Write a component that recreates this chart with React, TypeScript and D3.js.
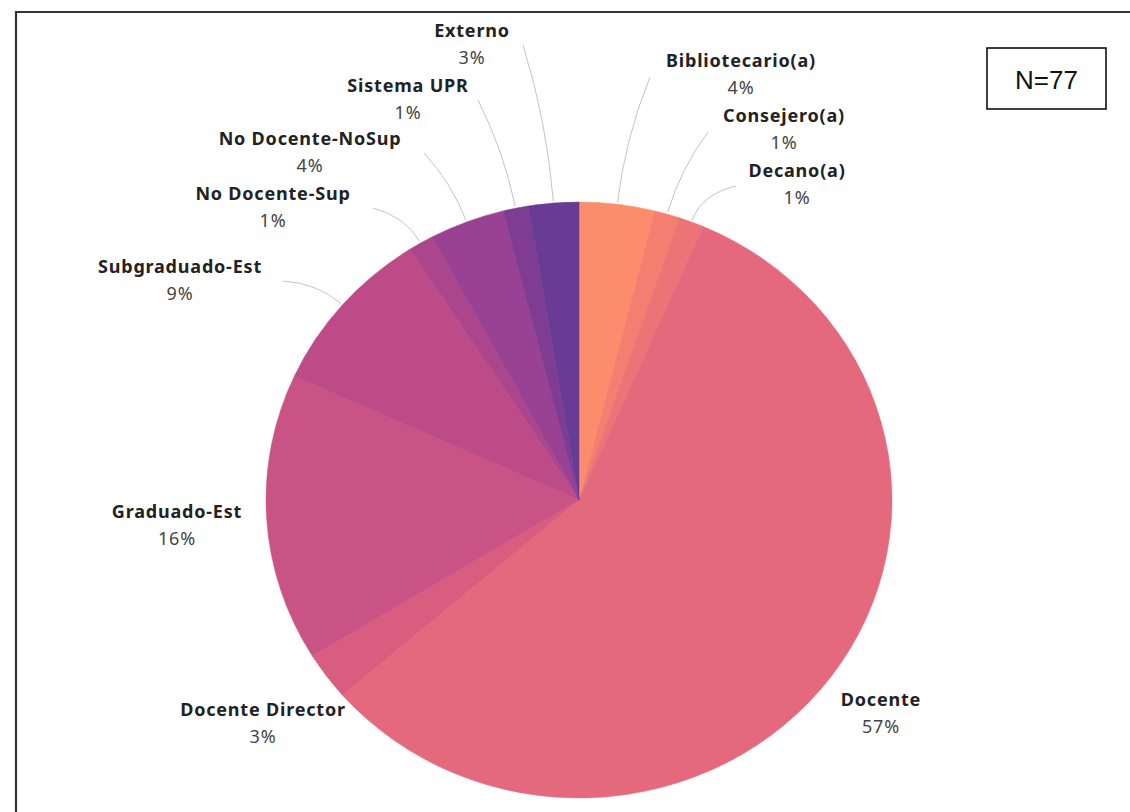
import React from "react";
import * as d3 from "d3";

const categories = [
  "Bibliotecario(a)",
  "Consejero(a)",
  "Decano(a)",
  "Docente",
  "Docente Director",
  "Graduado-Est",
  "Subgraduado-Est",
  "No Docente-Sup",
  "No Docente-NoSup",
  "Sistema UPR",
  "Externo",
];
const counts = [3, 1, 1, 44, 2, 12, 7, 1, 3, 1, 2];
const percentLabels = ["4%", "1%", "1%", "57%", "3%", "16%", "9%", "1%", "4%", "1%", "3%"];
const colors = [
  "#fc8d6c",
  "#f47f70",
  "#ec7476",
  "#e4697c",
  "#d95d7f",
  "#c95385",
  "#bc4b88",
  "#ac468c",
  "#994192",
  "#7e3d92",
  "#683b94",
];
const totalLabel = "N=77";

// label layout (pixel positions of text, and where leader lines end)
const labelLayout: Record<string, { x: number; y: number; lx?: number; ly?: number }> = {
  "Bibliotecario(a)": { x: 741, y: 67, lx: 650, ly: 77 },
  "Consejero(a)": { x: 784, y: 122, lx: 708, ly: 132 },
  "Decano(a)": { x: 797, y: 177, lx: 736, ly: 186 },
  Docente: { x: 881, y: 706 },
  "Docente Director": { x: 263, y: 716 },
  "Graduado-Est": { x: 177, y: 518 },
  "Subgraduado-Est": { x: 180, y: 273, lx: 283, ly: 281 },
  "No Docente-Sup": { x: 273, y: 200, lx: 373, ly: 208 },
  "No Docente-NoSup": { x: 310, y: 145, lx: 424, ly: 153 },
  "Sistema UPR": { x: 408, y: 92, lx: 478, ly: 100 },
  Externo: { x: 472, y: 37, lx: 523, ly: 45 },
};

const W = 1130;
const H = 812;
const CX = 579;
const CY = 500;
const R = 313;
const SY = 0.952;

export default function App() {
  const data = categories.map((c, i) => ({ name: c, value: counts[i], pct: percentLabels[i], color: colors[i] }));
  const pie = d3.pie<any>().value((d) => d.value).sort(null);
  const arcs = pie(data);
  const arc = d3.arc<any>().innerRadius(0).outerRadius(R);

  const font = "'Noto Sans', 'Open Sans', sans-serif";

  return (
    <svg width={W} height={H} style={{ position: "absolute", left: 0, top: 0, background: "#fff" }}>
      <path d={`M16,${H} V12 H${W}`} fill="none" stroke="#333" strokeWidth={2.2} />
      <g transform={`translate(${CX},${CY}) scale(1,${SY})`}>
        {arcs.map((a, i) => (
          <path key={i} d={arc(a) || ""} fill={a.data.color} stroke={a.data.color} strokeWidth={0.5} />
        ))}
      </g>
      {arcs.map((a, i) => {
        const L = labelLayout[a.data.name];
        if (!L || L.lx === undefined || L.ly === undefined) return null;
        const mid = (a.startAngle + a.endAngle) / 2;
        const sx = CX + Math.sin(mid) * (R + 2);
        const sy = CY - Math.cos(mid) * (R + 2) * SY;
        const ex = L.lx;
        const ey = L.ly;
        const dist = Math.hypot(ex - sx, ey - sy);
        const cx = sx + Math.sin(mid) * dist * 0.5;
        const cy = sy - Math.cos(mid) * dist * 0.5;
        return (
          <path key={"l" + i} d={`M${sx},${sy} Q${cx},${cy} ${ex},${ey}`} fill="none" stroke="#c4c4c4" strokeWidth={1} />
        );
      })}
      {arcs.map((a, i) => {
        const L = labelLayout[a.data.name];
        if (!L) return null;
        return (
          <g key={"t" + i} fontFamily={font} fontSize={18} textAnchor="middle" letterSpacing={0.8}>
            <text x={L.x} y={L.y} fontWeight="bold" fill="#222">
              {a.data.name}
            </text>
            <text x={L.x} y={L.y + 27} fill="#444">
              {a.data.pct}
            </text>
          </g>
        );
      })}
      <rect x={987} y={48} width={119} height={61} fill="#fff" stroke="#111" strokeWidth={1.6} />
      <text x={1046.5} y={89} textAnchor="middle" fontFamily="'Liberation Sans', Arial, sans-serif" fontSize={26} fill="#111">
        {totalLabel}
      </text>
    </svg>
  );
}
